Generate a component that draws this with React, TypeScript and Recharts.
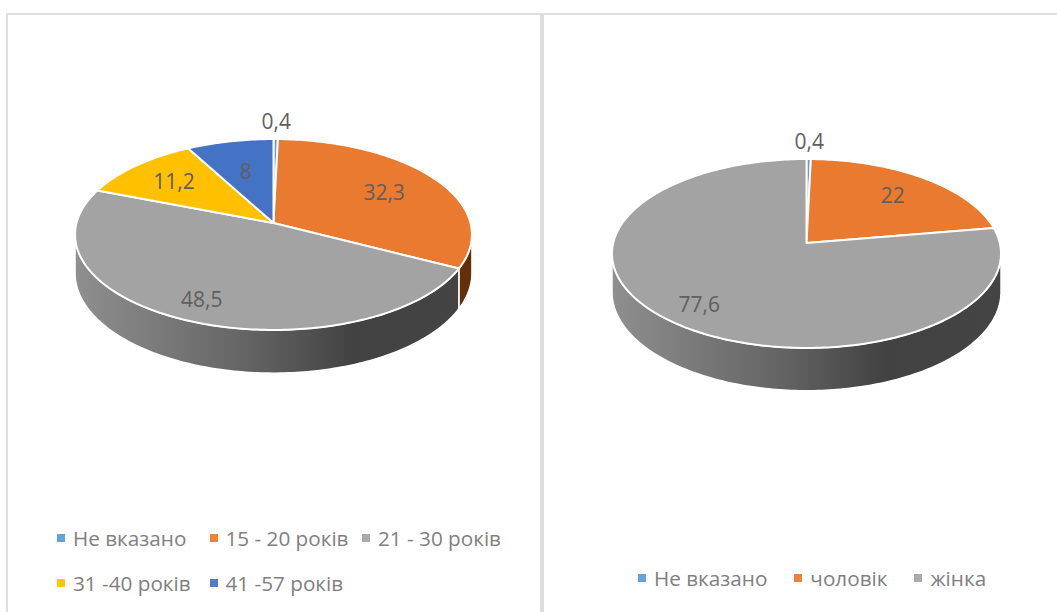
import { Legend, Pie, PieChart } from "recharts";

const AGE_NAMES = ["Не вказано", "15 - 20 років", "21 - 30 років", "31 -40 років", "41 -57 років"];
const AGE_VALUES = [0.4, 32.3, 48.5, 11.2, 8];
const AGE_COLORS = ["#5B9BD5", "#E97A30", "#A3A3A3", "#FFC000", "#4472C4"];
const AGE_LABEL_RADII = [1.25, 0.68, 0.81, 0.71, 0.61];

const SEX_NAMES = ["Не вказано", "чоловік", "жінка"];
const SEX_VALUES = [0.4, 22, 77.6];
const SEX_COLORS = ["#5B9BD5", "#E97A30", "#A3A3A3"];
const SEX_LABEL_RADII = [1.25, 0.72, 0.8];

const FONT = "'Open Sans', sans-serif";
const BORDER = "#dedede";

type View = {
  id: string;
  perspective: number; // how much the back of the disc shrinks
  tilt: number; // vertical squash of the disc
  depth: number; // wall height at the sides
};

const AGE_VIEW: View = { id: "age", perspective: 0.1204, tilt: 0.4775, depth: 38 };
const SEX_VIEW: View = { id: "sex", perspective: 0.111, tilt: 0.4827, depth: 38 };

const RAD = Math.PI / 180;

// Projects a point of the flat disc (angle in degrees, r as a share of the radius) onto the screen
function project(view: View, cx: number, cy: number, radius: number, angle: number, r = 1) {
  const x = Math.cos(angle * RAD) * r;
  const y = Math.sin(angle * RAD) * r;
  const s = 1 / (1 + view.perspective * y);
  return { x: cx + radius * x * s, y: cy - radius * view.tilt * y * s, s };
}

function rimPoints(view: View, cx: number, cy: number, radius: number, from: number, to: number) {
  const steps = Math.max(2, Math.ceil(Math.abs(from - to)));
  return Array.from({ length: steps + 1 }, (_, i) =>
    project(view, cx, cy, radius, from + ((to - from) * i) / steps),
  );
}

function makeSlice(view: View) {
  return function Slice(props: any) {
    const { cx, cy, outerRadius, startAngle, endAngle, fill } = props;
    const edge = Math.asin(view.perspective) / RAD;
    const from = Math.min(startAngle, -edge);
    const to = Math.max(endAngle, -180 + edge);

    const top = rimPoints(view, cx, cy, outerRadius, startAngle, endAngle)
      .map((p) => `${p.x},${p.y}`)
      .join(" L");

    let wall = null;
    if (from > to) {
      const upper = rimPoints(view, cx, cy, outerRadius, from, to);
      const lower = upper
        .slice()
        .reverse()
        .map((p) => `${p.x},${p.y + view.depth * p.s}`);
      const d = `M${upper.map((p) => `${p.x},${p.y}`).join(" L")} L${lower.join(" L")} Z`;
      const shade = fill === "#E97A30" ? "brown" : "grey";
      wall = <path d={d} fill={`url(#${view.id}-${shade})`} stroke="#fff" strokeWidth={1.5} />;
    }

    return (
      <g>
        {wall}
        <path d={`M${cx},${cy} L${top} Z`} fill={fill} stroke="#fff" strokeWidth={2} strokeLinejoin="round" />
      </g>
    );
  };
}

function makeLabel(view: View, radii: number[]) {
  return function SliceLabel(props: any) {
    const { cx, cy, outerRadius, midAngle, index, value } = props;
    const p = project(view, cx, cy, outerRadius, midAngle, radii[index]);
    return (
      <text
        x={p.x}
        y={p.y}
        fill="#5f5f5f"
        fontSize={21}
        fontFamily={FONT}
        textAnchor="middle"
        dominantBaseline="central"
      >
        {String(value).replace(".", ",")}
      </text>
    );
  };
}

function WallGradients({ view, x1, x2 }: { view: View; x1: number; x2: number }) {
  return (
    <defs>
      <linearGradient id={`${view.id}-grey`} gradientUnits="userSpaceOnUse" x1={x1} x2={x2} y1={0} y2={0}>
        <stop offset="0%" stopColor="#8f8f8f" />
        <stop offset="45%" stopColor="#626262" />
        <stop offset="70%" stopColor="#424242" />
        <stop offset="100%" stopColor="#444444" />
      </linearGradient>
      <linearGradient id={`${view.id}-brown`} gradientUnits="userSpaceOnUse" x1={x1} x2={x2} y1={0} y2={0}>
        <stop offset="0%" stopColor="#8a4a1c" />
        <stop offset="100%" stopColor="#613008" />
      </linearGradient>
    </defs>
  );
}

function LegendGrid({ payload, columns, gap }: { payload?: any[]; columns: string; gap?: number }) {
  return (
    <div style={{ display: "grid", gridTemplateColumns: columns, gridAutoRows: 45, columnGap: gap ?? 0 }}>
      {(payload ?? []).map((item) => (
        <div key={item.value} style={{ display: "flex", alignItems: "center", whiteSpace: "nowrap" }}>
          <span style={{ width: 8, height: 8, marginRight: 8, background: item.color, opacity: 0.92, flex: "none" }} />
          <span style={{ fontFamily: FONT, fontSize: 20.7, color: "#7f7f7f" }}>{item.value}</span>
        </div>
      ))}
    </div>
  );
}

function DiscChart({
  view,
  names,
  values,
  colors,
  radii,
  cx,
  cy,
  radius,
  legend,
  legendStyle,
}: {
  view: View;
  names: string[];
  values: number[];
  colors: string[];
  radii: number[];
  cx: number;
  cy: number;
  radius: number;
  legend: (props: any) => React.ReactNode;
  legendStyle: React.CSSProperties;
}) {
  const data = names.map((name, i) => ({ name, value: values[i], fill: colors[i] }));
  const halfWidth = radius / Math.sqrt(1 - view.perspective ** 2);
  return (
    <PieChart width={530} height={595} margin={{ top: 0, right: 0, bottom: 0, left: 0 }}>
      <WallGradients view={view} x1={cx - halfWidth} x2={cx + halfWidth} />
      <Pie
        data={data}
        dataKey="value"
        nameKey="name"
        cx={cx}
        cy={cy}
        innerRadius={0}
        outerRadius={radius}
        startAngle={90}
        endAngle={-270}
        stroke="none"
        shape={makeSlice(view)}
        label={makeLabel(view, radii)}
        labelLine={false}
        isAnimationActive={false}
      />
      <Legend content={legend} itemSorter={null} wrapperStyle={legendStyle} />
    </PieChart>
  );
}

const panelStyle: React.CSSProperties = {
  position: "absolute",
  top: 13,
  height: 640,
  boxSizing: "border-box",
  border: `2px solid ${BORDER}`,
  background: "#fff",
};

export default function App() {
  return (
    <div style={{ position: "absolute", left: 0, top: 0, width: 1057, height: 612, overflow: "hidden", background: "#fff" }}>
      <div style={{ ...panelStyle, left: 6, width: 536 }}>
        <DiscChart
          view={AGE_VIEW}
          names={AGE_NAMES}
          values={AGE_VALUES}
          colors={AGE_COLORS}
          radii={AGE_LABEL_RADII}
          cx={265.5}
          cy={208}
          radius={197}
          legend={(props) => <LegendGrid payload={props.payload} columns="152.5px 152.5px 152.5px" />}
          legendStyle={{ left: 49, top: 500.5, bottom: "auto", width: 475 }}
        />
      </div>
      <div style={{ ...panelStyle, left: 542, width: 540 }}>
        <DiscChart
          view={SEX_VIEW}
          names={SEX_NAMES}
          values={SEX_VALUES}
          colors={SEX_COLORS}
          radii={SEX_LABEL_RADII}
          cx={262.5}
          cy={228}
          radius={193.3}
          legend={(props) => <LegendGrid payload={props.payload} columns="auto auto auto" gap={27} />}
          legendStyle={{ left: 94, top: 540, bottom: "auto", width: "auto" }}
        />
      </div>
    </div>
  );
}
